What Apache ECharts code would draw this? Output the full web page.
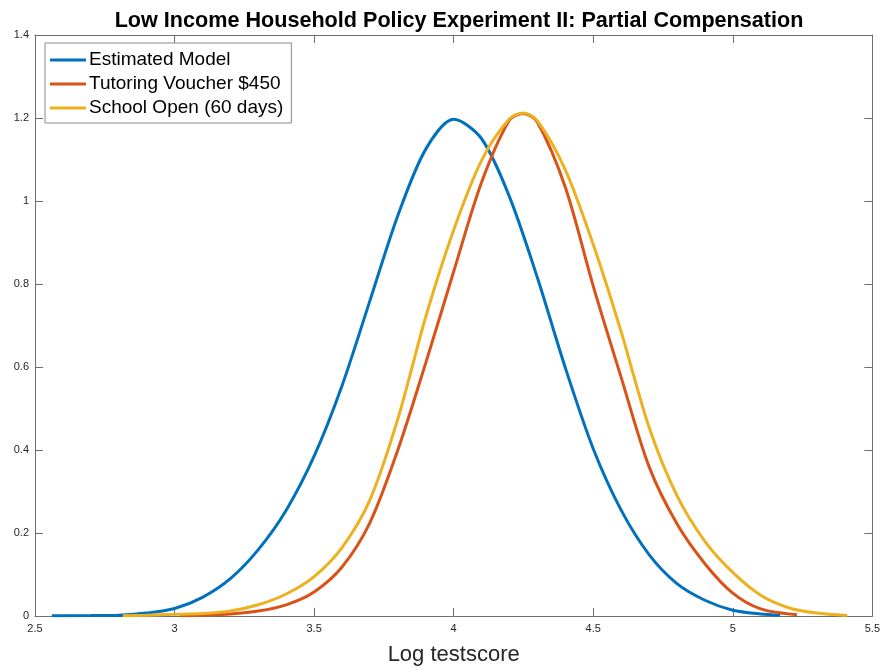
<!DOCTYPE html>
<html>
<head>
<meta charset="utf-8">
<script src="https://cdn.jsdelivr.net/npm/echarts@6/dist/echarts.min.js"></script>
<style>html,body{margin:0;padding:0;background:#fff;overflow:hidden;}#c{width:883px;height:671px;}</style>
</head>
<body>
<div id="c"></div>
<script>
const seriesNames = ['Estimated Model', 'Tutoring Voucher $450', 'School Open (60 days)'];
const xTicks = [2.5, 3, 3.5, 4, 4.5, 5, 5.5];
const yTicks = [0, 0.2, 0.4, 0.6, 0.8, 1, 1.2, 1.4];

const estX = [2.56, 2.7, 2.8, 2.9, 3.0, 3.1, 3.2, 3.3, 3.4, 3.5, 3.6, 3.7, 3.8, 3.9, 4.0, 4.1, 4.2, 4.3, 4.4, 4.5, 4.6, 4.7, 4.8, 4.9, 5.0, 5.1, 5.17];
const estY = [0.0005, 0.001, 0.002, 0.007, 0.018, 0.045, 0.090, 0.160, 0.255, 0.385, 0.555, 0.760, 0.965, 1.125, 1.197, 1.150, 1.010, 0.815, 0.598, 0.403, 0.255, 0.148, 0.078, 0.038, 0.014, 0.005, 0.002];

const tutX = [3.02, 3.1, 3.2, 3.3, 3.4, 3.5, 3.6, 3.7, 3.8, 3.9, 4.0, 4.1, 4.2, 4.25, 4.3, 4.4, 4.5, 4.6, 4.7, 4.8, 4.9, 5.0, 5.1, 5.23];
const tutY = [0.0005, 0.002, 0.005, 0.012, 0.027, 0.058, 0.118, 0.225, 0.400, 0.610, 0.830, 1.045, 1.195, 1.211, 1.190, 1.033, 0.795, 0.575, 0.360, 0.222, 0.126, 0.055, 0.017, 0.003];

const schX = [2.815, 2.9, 3.0, 3.1, 3.2, 3.3, 3.4, 3.5, 3.6, 3.7, 3.8, 3.9, 4.0, 4.1, 4.2, 4.25, 4.3, 4.4, 4.5, 4.6, 4.7, 4.8, 4.9, 5.0, 5.1, 5.2, 5.3, 5.41];
const schY = [0.0005, 0.002, 0.004, 0.006, 0.012, 0.027, 0.053, 0.095, 0.165, 0.280, 0.475, 0.721, 0.930, 1.098, 1.198, 1.212, 1.193, 1.075, 0.895, 0.685, 0.455, 0.290, 0.180, 0.105, 0.050, 0.020, 0.007, 0.001];

const colors = ['#0072BD', '#D95319', '#EDB120'];
const FONT = 'Liberation Sans, Arial, Helvetica, sans-serif';
const axisGray = '#6e6e6e';
const labelColor = '#262626';

function pairs(xs, ys) { return xs.map((x, i) => [x, ys[i]]); }

const chart = echarts.init(document.getElementById('c'), null, { renderer: 'canvas', width: 883, height: 671 });
const axisCommonX = {
  type: 'value', min: xTicks[0], max: xTicks[xTicks.length - 1], interval: 0.5,
  axisLine: { show: true, onZero: false, lineStyle: { color: axisGray, width: 1 } },
  axisTick: { show: true, inside: true, length: 8, lineStyle: { color: axisGray } },
  splitLine: { show: false }
};
const axisCommonY = {
  type: 'value', min: yTicks[0], max: yTicks[yTicks.length - 1], interval: 0.2,
  axisLine: { show: true, onZero: false, lineStyle: { color: axisGray, width: 1 } },
  axisTick: { show: true, inside: true, length: 8, lineStyle: { color: axisGray } },
  splitLine: { show: false }
};
const option = {
  backgroundColor: '#fff',
  animation: false,
  title: {
    text: 'Low Income Household Policy Experiment II: Partial Compensation',
    left: 454, top: 5, textAlign: 'center',
    textStyle: { fontFamily: FONT, fontSize: 21.6, fontWeight: 'bold', color: '#000' }
  },
  legend: {
    orient: 'vertical', left: 45, top: 43,
    data: seriesNames,
    icon: 'rect', itemWidth: 36, itemHeight: 3, itemGap: 2,
    padding: [6, 8, 4, 5],
    borderColor: '#8a8a8a', borderWidth: 1, backgroundColor: '#fff',
    textStyle: { fontFamily: FONT, fontSize: 19, color: '#000', lineHeight: 22, padding: [0, 0, 0, -2] }
  },
  grid: { left: 35, top: 35, width: 838, height: 587, containLabel: false },
  xAxis: [
    Object.assign({}, axisCommonX, {
      position: 'bottom',
      name: 'Log testscore', nameLocation: 'middle', nameGap: 28,
      nameTextStyle: { fontFamily: FONT, fontSize: 22, color: labelColor },
      axisLabel: { fontFamily: FONT, fontSize: 11, color: labelColor, margin: 7,
        formatter: v => String(v) }
    }),
    Object.assign({}, axisCommonX, { position: 'top', axisLabel: { show: false } })
  ],
  yAxis: [
    Object.assign({}, axisCommonY, {
      position: 'left',
      axisLabel: { fontFamily: FONT, fontSize: 11, color: labelColor, margin: 6,
        formatter: v => String(Math.round(v * 10) / 10) }
    }),
    Object.assign({}, axisCommonY, { position: 'right', axisLabel: { show: false } })
  ],
  series: [
    { name: seriesNames[0], type: 'line', data: pairs(estX, estY), smooth: 0.3, showSymbol: false, symbol: 'none',
      lineStyle: { color: colors[0], width: 3 }, itemStyle: { color: colors[0] }, z: 3 },
    { name: seriesNames[1], type: 'line', data: pairs(tutX, tutY), smooth: 0.3, showSymbol: false, symbol: 'none',
      lineStyle: { color: colors[1], width: 3 }, itemStyle: { color: colors[1] }, z: 4 },
    { name: seriesNames[2], type: 'line', data: pairs(schX, schY), smooth: 0.3, showSymbol: false, symbol: 'none',
      lineStyle: { color: colors[2], width: 3 }, itemStyle: { color: colors[2] }, z: 5 }
  ]
};
chart.setOption(option);
</script>
</body>
</html>
